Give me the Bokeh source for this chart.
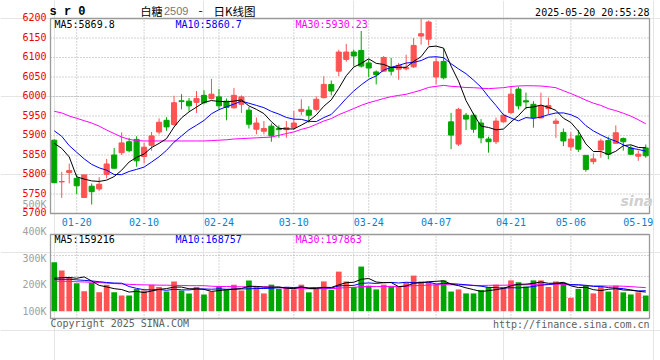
import numpy as np
from bokeh.plotting import figure
from bokeh.models import Range1d, Label, ColumnDataSource
from bokeh.core.properties import value
from bokeh.embed import file_html
from bokeh.resources import INLINE

# ---------------- data ----------------
dates = ["01-15", "01-16", "01-17", "01-20", "01-21", "01-22", "01-23", "01-24", "01-27",
         "02-05", "02-06", "02-07", "02-10", "02-11", "02-12", "02-13", "02-14",
         "02-17", "02-18", "02-19", "02-20", "02-21", "02-24", "02-25", "02-26", "02-27", "02-28",
         "03-03", "03-04", "03-05", "03-06", "03-07", "03-10", "03-11", "03-12", "03-13", "03-14",
         "03-17", "03-18", "03-19", "03-20", "03-21", "03-24", "03-25", "03-26", "03-27", "03-28",
         "03-31", "04-01", "04-02", "04-03", "04-07", "04-08", "04-09", "04-10", "04-11",
         "04-14", "04-15", "04-16", "04-17", "04-18", "04-21", "04-22", "04-23", "04-24", "04-25",
         "04-28", "04-29", "04-30", "05-06", "05-07", "05-08", "05-09",
         "05-12", "05-13", "05-14", "05-15", "05-16", "05-19", "05-20"]

opens = [5888, 5781, 5805, 5790, 5741, 5770, 5763, 5800, 5850, 5856,
         5884, 5890, 5846, 5875, 5909, 5939, 5928, 5989, 5988, 5985,
         6003, 5995, 5999, 5988, 5971, 5980, 5965, 5916, 5911, 5924,
         5918, 5915, 5920, 5962, 5965, 5967, 5997, 6031, 6065, 6095,
         6114, 6118, 6086, 6063, 6065, 6074, 6070, 6071, 6076, 6155,
         6147, 6050, 6090, 5935, 5878, 5952, 5952, 5932, 5891, 5884,
         5935, 5959, 6019, 5989, 5980, 5945, 5969, 5931, 5908, 5871,
         5899, 5849, 5833, 5863, 5887, 5880, 5892, 5868, 5847, 5868]
highs = [5890, 5807, 5828, 5800, 5799, 5777, 5793, 5840, 5868, 5908,
         5894, 5898, 5882, 5909, 5944, 5947, 6002, 6006, 5996, 6014,
         6016, 6045, 6019, 5995, 6022, 6003, 5973, 5946, 5937, 5931,
         5926, 5937, 5963, 5993, 5975, 6000, 6052, 6041, 6120, 6135,
         6120, 6168, 6095, 6067, 6104, 6099, 6086, 6107, 6150, 6199,
         6195, 6101, 6123, 5958, 5971, 5958, 5958, 5942, 5897, 5946,
         5956, 6025, 6025, 6010, 5988, 6010, 5997, 5944, 5918, 5908,
         5914, 5849, 5854, 5892, 5897, 5926, 5895, 5875, 5862, 5877]
lows = [5778, 5740, 5777, 5750, 5741, 5723, 5758, 5790, 5816, 5850,
        5857, 5820, 5828, 5861, 5903, 5912, 5925, 5967, 5962, 5958,
        5980, 5992, 5967, 5939, 5969, 5958, 5918, 5903, 5903, 5884,
        5894, 5894, 5914, 5952, 5933, 5962, 5995, 6003, 6052, 6089,
        6077, 6074, 6050, 6031, 6063, 6054, 6043, 6067, 6073, 6133,
        6131, 6031, 6044, 5865, 5873, 5914, 5907, 5880, 5856, 5878,
        5933, 5955, 5967, 5967, 5920, 5944, 5955, 5894, 5873, 5861,
        5858, 5807, 5826, 5843, 5839, 5880, 5861, 5850, 5835, 5843]
closes = [5779, 5782, 5810, 5771, 5799, 5756, 5775, 5827, 5816, 5881,
          5861, 5835, 5870, 5899, 5934, 5922, 5984, 5987, 5976, 5995,
          5984, 6006, 5976, 5972, 6003, 5999, 5929, 5932, 5918, 5899,
          5915, 5920, 5932, 5967, 5952, 5993, 6031, 6014, 6114, 6114,
          6104, 6078, 6073, 6056, 6100, 6065, 6080, 6074, 6131, 6161,
          6191, 6089, 6048, 5901, 5967, 5942, 5916, 5894, 5884, 5937,
          5952, 6006, 5976, 5986, 5946, 5976, 5977, 5937, 5886, 5891,
          5865, 5813, 5840, 5886, 5852, 5907, 5884, 5852, 5852, 5848]
# volume, thousands
volume_k = [284, 253, 228, 205, 175, 207, 171, 200, 171, 159,
            159, 184, 178, 199, 191, 174, 212, 178, 167, 191,
            163, 174, 193, 182, 200, 178, 216, 191, 167, 200,
            184, 191, 182, 200, 171, 184, 212, 180, 249, 212,
            191, 268, 196, 182, 200, 193, 191, 208, 234, 212,
            209, 200, 216, 174, 182, 167, 167, 180, 191, 200,
            191, 216, 209, 193, 216, 216, 191, 212, 208, 150,
            184, 196, 167, 191, 174, 196, 171, 163, 171, 159]

# moving averages before enough in-window history exists
ma5_head = [5880, 5867, 5845, 5794]
ma10_head = [5912, 5898, 5874, 5857, 5840, 5826, 5817, 5811, 5800]
ma30_head = [5962, 5958, 5950, 5944, 5938, 5932, 5924, 5914, 5905, 5896,
             5890, 5887, 5886, 5886, 5886, 5886, 5886, 5886, 5886, 5886,
             5886, 5887, 5888, 5889, 5891, 5892, 5893, 5894, 5895]
vma5_head = [224, 226, 227, 224]
vma10_head = [220, 220, 220, 218, 216, 214, 211, 208, 206]
vma30_head = [213, 213, 212, 211, 210, 209, 208, 206, 204, 203,
              201, 200, 199, 199, 198, 198, 197, 197, 196, 196,
              196, 194, 193, 193, 192, 192, 192, 192, 192]

price_ticks = [5700, 5750, 5800, 5850, 5900, 5950, 6000, 6050, 6100, 6150, 6200]
vol_ticks = [100000, 200000, 300000, 400000, 500000]
vol_tick_labels = ["100K", "200K", "300K", "400K", "500K"]
date_labels = ["01-20", "02-10", "02-24", "03-10", "03-24", "04-07", "04-21", "05-06", "05-19"]
grid_dates = date_labels[:-1]

header_ma = ["MA5:5869.8", "MA10:5860.7", "MA30:5930.23"]
vol_header_ma = ["MA5:159216", "MA10:168757", "MA30:197863"]

# ---------------- geometry (page pixels) ----------------
W, H = 660, 360
FL, FR = 50, 649           # left / right edge of both panels
PT, PB = 18, 213           # price panel top / bottom
VT, VB = 234, 318          # volume panel top / bottom
VOL_TOP_TICK_Y, VOL_BASE_Y = 231, 310.7   # where 400K and the bar base sit
vol_base = 100000
vol_top_tick = 400000

RED = "#ff5252"
GREEN = "#00a600"
GRID = "#a8a8a8"
BOX = "#9a9a9a"
MONO = "DejaVu Sans Mono"
CJK = "Noto Sans CJK SC"

n = len(dates)
slot = (FR - FL) / n
x_start = -0.5 - FL / slot
ppu = (PB - PT) / (price_ticks[-1] - price_ticks[0])
vppu = (VOL_BASE_Y - VOL_TOP_TICK_Y) / (vol_top_tick - vol_base)


def xi(px):
    return -0.5 + (px - FL) / slot


def py(px):
    return price_ticks[-1] - (px - PT) / ppu


def vy(px):
    return vol_top_tick - (px - VOL_TOP_TICK_Y) / vppu


def moving_avg(vals, k, head):
    v = np.asarray(vals, dtype=float)
    return list(head) + [v[i - k + 1:i + 1].mean() for i in range(k - 1, len(v))]


idx = list(range(n))
vol = [v * 1000 for v in volume_k]
colors = [RED if c >= o else GREEN for o, c in zip(opens, closes)]
src = ColumnDataSource(dict(
    x=idx, o=opens, h=highs, l=lows, c=closes,
    top=[max(o, c) for o, c in zip(opens, closes)],
    bot=[min(o, c) for o, c in zip(opens, closes)],
    color=colors, vol=vol))

ma5 = moving_avg(closes, 5, ma5_head)
ma10 = moving_avg(closes, 10, ma10_head)
ma30 = moving_avg(closes, 30, ma30_head)
vma5 = [x * 1000 for x in moving_avg(volume_k, 5, vma5_head)]
vma10 = [x * 1000 for x in moving_avg(volume_k, 10, vma10_head)]
vma30 = [x * 1000 for x in moving_avg(volume_k, 30, vma30_head)]

label_idx = [dates.index(d) for d in date_labels]
grid_idx = [dates.index(d) for d in grid_dates]

p = figure(width=W, height=H, min_border=0, output_backend="svg", toolbar_location=None,
           x_axis_location=None, y_axis_location=None,
           x_range=Range1d(x_start, x_start + W / slot),
           y_range=Range1d(py(H), py(0)))
p.extra_y_ranges = {"vol": Range1d(vy(H), vy(0))}
p.outline_line_color = None
p.background_fill_color = "white"
p.border_fill_color = "white"

left, right = -0.5, n - 0.5
vol_lo, vol_hi = vy(VB), vy(VT)

# ---- grids ----
gy = price_ticks[1:-1]
p.segment(x0=[left] * len(gy), x1=[right] * len(gy), y0=gy, y1=gy,
          line_color=GRID, line_dash="1 2", line_width=1)
p.segment(x0=grid_idx, x1=grid_idx, y0=[price_ticks[0]] * len(grid_idx),
          y1=[price_ticks[-1]] * len(grid_idx), line_color=GRID, line_dash="1 2", line_width=1)
vg = [vol_lo + k * (vol_hi - vol_lo) / 4 for k in (1, 2, 3)]
p.segment(x0=[left] * 3, x1=[right] * 3, y0=vg, y1=vg, y_range_name="vol",
          line_color=GRID, line_dash="1 2", line_width=1)
p.segment(x0=grid_idx, x1=grid_idx, y0=[vol_lo] * len(grid_idx), y1=[vol_hi] * len(grid_idx),
          y_range_name="vol", line_color=GRID, line_dash="1 2", line_width=1)

# ---- candles ----
p.segment(x0="x", y0="l", x1="x", y1="h", line_color="color", line_width=1, source=src)
p.vbar(x="x", width=0.68, top="top", bottom="bot", fill_color="color",
       line_color="color", line_width=1, source=src)
p.line(idx, ma30, line_color="#ff00ff", line_width=1)
p.line(idx, ma10, line_color="#0000ff", line_width=1)
p.line(idx, ma5, line_color="black", line_width=1)

# ---- volume ----
p.vbar(x="x", width=0.76, top="vol", bottom=vol_base, fill_color="color",
       line_color=None, source=src, y_range_name="vol")
p.line(idx, vma30, line_color="#ff00ff", line_width=1, y_range_name="vol")
p.line(idx, vma10, line_color="#0000ff", line_width=1, y_range_name="vol")
p.line(idx, vma5, line_color="black", line_width=1, y_range_name="vol")

# ---- panel boxes ----
p.quad(left=[left], right=[right], bottom=[price_ticks[0]], top=[price_ticks[-1]],
       fill_color=None, line_color=BOX, line_width=1.3)
p.quad(left=[left], right=[right], bottom=[vol_lo], top=[vol_hi], y_range_name="vol",
       fill_color=None, line_color=BOX, line_width=1.3)

# ---- axis labels ----
lab_x = xi(46)
p.text(x=[lab_x] * len(price_ticks), y=price_ticks, text=[str(t) for t in price_ticks],
       text_font=value(MONO), text_font_size=value("10px"), text_color="#ee0000",
       text_align="right", text_baseline="middle", y_offset=-1.5)
p.text(x=[lab_x] * len(vol_ticks), y=vol_ticks, text=vol_tick_labels, y_range_name="vol",
       text_font=value(MONO), text_font_size=value("10px"), text_color="#a0a0a0",
       text_align="right", text_baseline="middle")
p.text(x=label_idx, y=[py(221)] * len(label_idx), text=date_labels,
       text_font=value(MONO), text_font_size=value("10px"), text_color="#0a7fd0",
       text_align="center", text_baseline="middle")


def add_text(x, y, text, color="black", size="10px", align="left", font=MONO, style="normal"):
    p.add_layout(Label(x=x, y=H - y, x_units="screen", y_units="screen", text=text,
                       text_color=color, text_font_size=size, text_align=align,
                       text_baseline="middle", text_font=font, text_font_style=style))


add_text(49, 11.5, "s r 0", size="12px", font="Liberation Mono", style="bold")
add_text(140, 10, "白糖", size="11px", font=CJK)
add_text(163.5, 10.5, "2509", color="#777777", size="11px", font="Liberation Sans")
add_text(200, 10, "-", size="12px", font=CJK, align="center")
add_text(213, 10, "日K线图", size="11.5px", font=CJK)
add_text(649, 11.5, "2025-05-20 20:55:28", align="right")
add_text(54, 24, header_ma[0], color="black")
add_text(175, 24, header_ma[1], color="#0000ff")
add_text(295, 24, header_ma[2], color="#ff00ff")
add_text(620, 200, "sina", color="#d0d0d0", size="14px", font="DejaVu Sans", style="bold italic")
add_text(54, 238.5, vol_header_ma[0], color="black")
add_text(175, 238.5, vol_header_ma[1], color="#0000ff")
add_text(295, 238.5, vol_header_ma[2], color="#ff00ff")
add_text(50, 323, "Copyright 2025 SINA.COM", color="#606060")
add_text(649, 324, "http://finance.sina.com.cn", color="#606060", align="right")

open("out.html", "w").write(file_html(p, INLINE))
